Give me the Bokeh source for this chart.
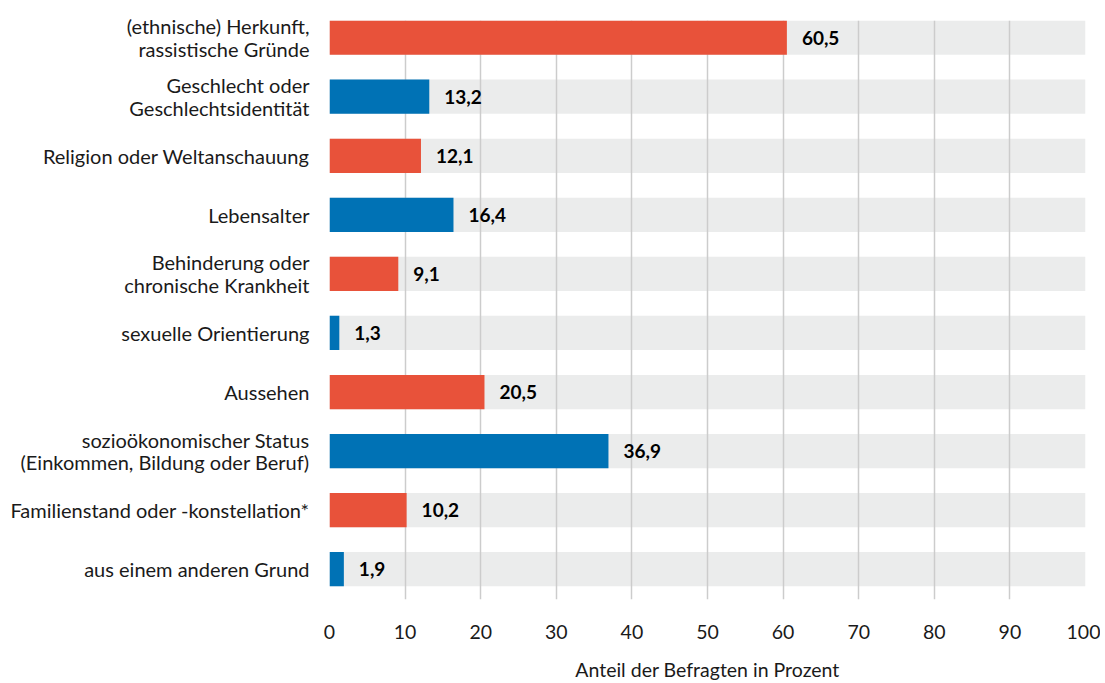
from bokeh.plotting import figure
from bokeh.models import Range1d, FixedTicker, ColumnDataSource
from bokeh.core.properties import value
from bokeh.embed import file_html
from bokeh.resources import INLINE

categories = [
    "(ethnische) Herkunft,\nrassistische Gründe",
    "Geschlecht oder\nGeschlechtsidentität",
    "Religion oder Weltanschauung",
    "Lebensalter",
    "Behinderung oder\nchronische Krankheit",
    "sexuelle Orientierung",
    "Aussehen",
    "sozioökonomischer Status\n(Einkommen, Bildung oder Beruf)",
    "Familienstand oder -konstellation*",
    "aus einem anderen Grund",
]
values = [60.5, 13.2, 12.1, 16.4, 9.1, 1.3, 20.5, 36.9, 10.2, 1.9]
x_ticks = [0, 10, 20, 30, 40, 50, 60, 70, 80, 90, 100]
x_title = "Anteil der Befragten in Prozent"

RED = "#E8523A"
BLUE = "#0072B5"
FONT = "Lato"

idx = list(range(len(categories)))
colors = [RED if i % 2 == 0 else BLUE for i in idx]
labels = [f"{v:.1f}".replace(".", ",") for v in values]

src = ColumnDataSource(dict(y=idx, v=values, c=colors, lab=labels,
                            full=[100] * len(idx)))

p = figure(width=1100, height=683, output_backend="svg", toolbar_location=None,
           x_range=Range1d(0, 100), y_range=Range1d(9.513, -0.29),
           min_border_left=329, min_border_right=15, min_border_top=20,
           min_border_bottom=71)
p.outline_line_color = None
p.background_fill_color = "white"

bands = p.hbar(y="y", left=0, right="full", height=0.58, source=src,
               fill_color="#EBECEC", line_color=None)
bands.level = "image"

p.hbar(y="y", left=0, right="v", height=0.58, source=src,
       fill_color="c", line_color=None)

p.text(x="v", y="y", text="lab", source=src, x_offset=15,
       text_align="left", text_baseline="middle",
       text_font=value(FONT), text_font_style="bold",
       text_font_size="19px", text_color="#000000")

# grid
p.ygrid.visible = False
p.xgrid.grid_line_color = "#CCCCCC"
p.xgrid.grid_line_width = 1.5
p.xgrid.ticker = FixedTicker(ticks=x_ticks)

# x axis
xa = p.xaxis[0]
xa.ticker = FixedTicker(ticks=x_ticks)
xa.axis_line_color = None
xa.major_tick_line_color = None
xa.minor_tick_line_color = None
xa.major_label_text_font = FONT
xa.major_label_text_font_size = "19.5px"
xa.major_label_text_color = "#1a1a1a"
xa.major_label_standoff = 19
xa.axis_label = x_title
xa.axis_label_text_font = FONT
xa.axis_label_text_font_size = "19.5px"
xa.axis_label_text_font_style = "normal"
xa.axis_label_text_color = "#1a1a1a"
xa.axis_label_standoff = 16

# y axis
ya = p.yaxis[0]
ya.ticker = FixedTicker(ticks=idx)
ya.major_label_overrides = {i: c for i, c in zip(idx, categories)}
ya.axis_line_color = None
ya.major_tick_line_color = None
ya.minor_tick_line_color = None
ya.major_label_text_font = FONT
ya.major_label_text_font_size = "20px"
ya.major_label_text_line_height = 0.95
ya.major_label_text_color = "#1a1a1a"
ya.major_label_standoff = 14

open("out.html", "w").write(file_html(p, INLINE))
